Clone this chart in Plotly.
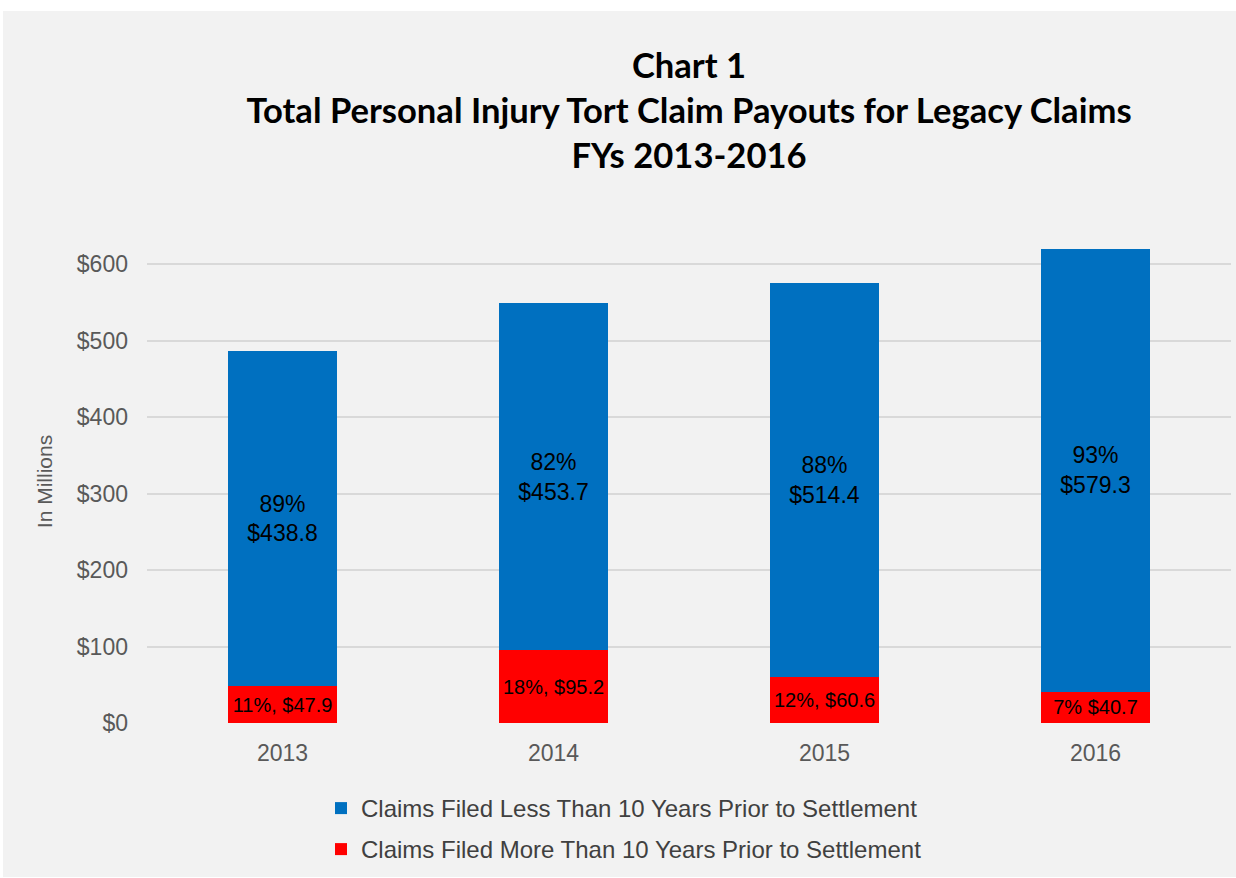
import plotly.graph_objects as go

years = ["2013", "2014", "2015", "2016"]
less_10 = [438.8, 453.7, 514.4, 579.3]
more_10 = [47.9, 95.2, 60.6, 40.7]
less_pct = ["89%", "82%", "88%", "93%"]
more_labels = ["11%, $47.9", "18%, $95.2", "12%, $60.6", "7% $40.7"]
tick_vals = [0, 100, 200, 300, 400, 500, 600]
tick_text = ["$0", "$100", "$200", "$300", "$400", "$500", "$600"]

less_labels = [f"{p}<br>${v:.1f}" for p, v in zip(less_pct, less_10)]

W, H = 1236, 878
L, R, T, B = 147, 5, 240, 155
pw, ph = W - L - R, H - T - B

def px_x(x):
    return (x - L) / pw

def px_y(y):
    return (H - B - y) / ph

fig = go.Figure()
fig.add_trace(go.Bar(
    x=years, y=more_10, name="Claims Filed More Than 10 Years Prior to Settlement",
    marker=dict(color="#FF0000", line=dict(width=0)),
    text=more_labels, textposition="inside", insidetextanchor="middle",
    textangle=0, constraintext="none",
    textfont=dict(family="Liberation Sans, Arial", size=20, color="#000000"),
    width=0.4, legend="legend2",
))
fig.add_trace(go.Bar(
    x=years, y=less_10, name="Claims Filed Less Than 10 Years Prior to Settlement",
    marker=dict(color="#0070C0", line=dict(width=0)),
    text=less_labels, textposition="inside", insidetextanchor="middle",
    textangle=0, constraintext="none",
    textfont=dict(family="Liberation Sans, Arial", size=23, color="#000000"),
    width=0.4, legend="legend",
))

fig.add_shape(type="rect", xref="paper", yref="paper",
              x0=px_x(3), x1=px_x(1236), y0=px_y(877), y1=px_y(11),
              fillcolor="#F2F2F2", line=dict(width=0), layer="below")

legend_style = dict(
    orientation="v", xanchor="left", yanchor="top", x=px_x(321),
    xref="paper", yref="container",
    font=dict(size=24, color="#404040"), bgcolor="rgba(0,0,0,0)",
)

fig.update_layout(
    width=W, height=H,
    margin=dict(l=L, r=R, t=T, b=B),
    paper_bgcolor="#FFFFFF",
    plot_bgcolor="rgba(0,0,0,0)",
    barmode="stack",
    font=dict(family="Liberation Sans, Arial", color="#595959"),
    title=dict(
        text="Chart 1<br>Total Personal Injury Tort Claim Payouts for Legacy Claims<br>FYs 2013-2016",
        font=dict(family="Lato", size=34.6, color="#000000", weight="bold"),
        x=px_x(689), xanchor="center", xref="paper",
        y=1 - 78 / H, yanchor="middle", yref="container",
    ),
    xaxis=dict(
        showgrid=False, showline=False, zeroline=False, automargin=False,
        tickfont=dict(size=23, color="#595959"),
        ticklabelstandoff=14,
    ),
    yaxis=dict(
        range=[0, (H - B - T) / 0.765],
        tickvals=tick_vals, ticktext=tick_text,
        showgrid=True, gridcolor="#D9D9D9", gridwidth=2,
        zeroline=False, showline=False, automargin=False,
        tickfont=dict(size=23, color="#595959"),
        ticklabelstandoff=18,
        title=dict(text="In Millions", font=dict(size=21, color="#595959"), standoff=18),
    ),
    legend=dict(y=1 - 786 / H, **legend_style),
    legend2=dict(y=1 - 827 / H, **legend_style),
    showlegend=True,
)

fig.write_html("out.html", config={"displayModeBar": False},
               post_script="document.body.style.margin='0';")
